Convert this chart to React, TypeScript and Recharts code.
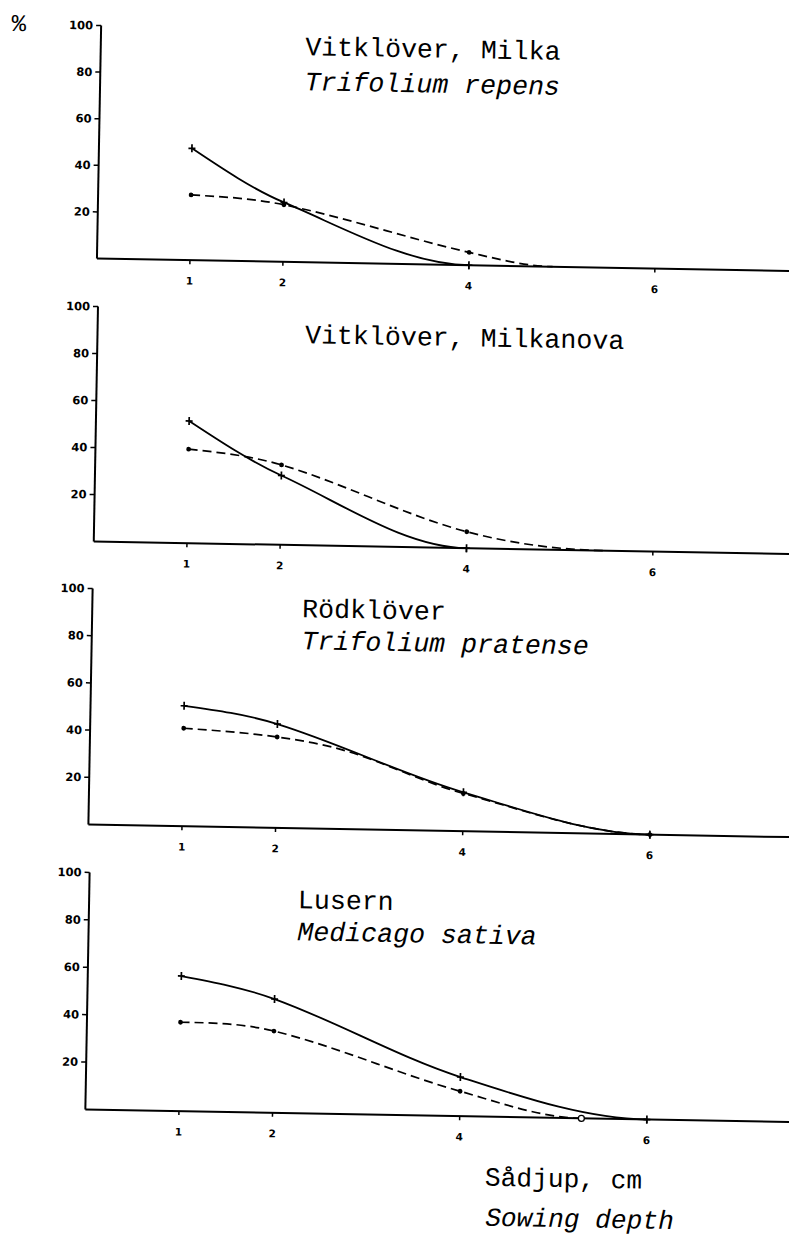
import React from 'react';
import { LineChart, Line, XAxis, YAxis } from 'recharts';

// ---- data ----
const depthTicks = [1, 2, 4, 6];
const percentTicks = [20, 40, 60, 80, 100];

const milkaSolidDepth = [1, 2, 4];
const milkaSolidPct = [48, 25.5, 0];
const milkaDashDepth = [1, 2, 4, 4.9];
const milkaDashPct = [28, 24.5, 5.5, 0];

const milkanovaSolidDepth = [1, 2, 4];
const milkanovaSolidPct = [52, 29.5, 0];
const milkanovaDashDepth = [1, 2, 4, 5.5];
const milkanovaDashPct = [40, 34, 7, 0];

const rodSolidDepth = [1, 2, 4, 6];
const rodSolidPct = [51, 44, 16.5, 0];
const rodDashDepth = [1, 2, 2.75, 4, 6];
const rodDashPct = [41.5, 38.5, 33, 16, 0];

const lusernSolidDepth = [1, 2, 4, 6];
const lusernSolidPct = [57, 48, 16.5, 0];
const lusernDashDepth = [1, 2, 4, 5.3];
const lusernDashPct = [37.5, 34.5, 10.5, 0];

const titles = ['Vitklöver, Milka', 'Vitklöver, Milkanova', 'Rödklöver', 'Lusern'];
const subtitles = ['Trifolium repens', '', 'Trifolium pratense', 'Medicago sativa'];
const xLabel = 'Sådjup, cm';
const xLabelEn = 'Sowing depth';
const yUnit = '%';

const zip = (xs: number[], ys: number[]) => xs.map((d, i) => ({ depth: d, pct: ys[i] }));

const series = [
  { solid: zip(milkaSolidDepth, milkaSolidPct), dash: zip(milkaDashDepth, milkaDashPct) },
  { solid: zip(milkanovaSolidDepth, milkanovaSolidPct), dash: zip(milkanovaDashDepth, milkanovaDashPct) },
  { solid: zip(rodSolidDepth, rodSolidPct), dash: zip(rodDashDepth, rodDashPct) },
  { solid: zip(lusernSolidDepth, lusernSolidPct), dash: zip(lusernDashDepth, lusernDashPct) },
];

// ---- layout (the scanned original is turned about 1 degree clockwise) ----
const W = 789;
const H = 1244;
const CW = 815; // chart width, runs past the right edge like the original axis
const TILT = 1.03;
const panels = [
  { y100: 30.5, y0: 263.5, x0: 90.5, unit: 93, tx: 295, ty: 57, sy: 92, openEnd: false },
  { y100: 311.5, y0: 546.5, x0: 92.4, unit: 93.2, tx: 300, ty: 345, sy: 0, openEnd: false },
  { y100: 593.5, y0: 829.6, x0: 92.1, unit: 93.6, tx: 302, ty: 619, sy: 651, openEnd: false },
  { y100: 877.6, y0: 1114.6, x0: 94.2, unit: 93.6, tx: 303, ty: 910, sy: 942, openEnd: true },
];

const MONO = '"Liberation Mono", "Courier New", monospace';
const TICKFONT = '"DejaVu Sans", "Liberation Sans", Arial, sans-serif';
const TOPM = 10;
const XAXH = 30;

// Smooth hand-drawn-like curve: cubic Hermite through the points,
// Catmull-Rom tangents inside, flat tangent where the curve meets the axis.
const smoothCurve = (context: any) => {
  let xs: number[] = [];
  let ys: number[] = [];
  return {
    areaStart() {},
    areaEnd() {},
    lineStart() {
      xs = [];
      ys = [];
    },
    point(x: number, y: number) {
      xs.push(+x);
      ys.push(+y);
    },
    lineEnd() {
      const n = xs.length;
      if (n === 0) return;
      context.moveTo(xs[0], ys[0]);
      if (n === 1) return;
      if (n === 2) {
        context.lineTo(xs[1], ys[1]);
        return;
      }
      const s: number[] = [];
      for (let i = 0; i < n - 1; i++) s.push((ys[i + 1] - ys[i]) / (xs[i + 1] - xs[i]));
      const m: number[] = new Array(n).fill(0);
      for (let i = 1; i < n - 1; i++) m[i] = (ys[i + 1] - ys[i - 1]) / (xs[i + 1] - xs[i - 1]);
      m[0] = (3 * s[0] - m[1]) / 2;
      m[n - 1] = 0;
      for (let i = 0; i < n - 1; i++) {
        const h = xs[i + 1] - xs[i];
        context.bezierCurveTo(
          xs[i] + h / 3,
          ys[i] + (m[i] * h) / 3,
          xs[i + 1] - h / 3,
          ys[i + 1] - (m[i + 1] * h) / 3,
          xs[i + 1],
          ys[i + 1]
        );
      }
    },
  };
};

const plusDot = (props: any) => {
  const { cx, cy, payload, index } = props;
  if (!depthTicks.includes(payload.depth)) return <g key={`p${index}`} />;
  return (
    <g key={`p${index}`}>
      <line x1={cx - 3.5} y1={cy} x2={cx + 3.5} y2={cy} stroke="#000" strokeWidth={1.7} />
      <line x1={cx} y1={cy - 4} x2={cx} y2={cy + 4} stroke="#000" strokeWidth={1.7} />
    </g>
  );
};

const makeDashDot = (openEnd: boolean) => (props: any) => {
  const { cx, cy, payload, index } = props;
  if (!depthTicks.includes(payload.depth)) {
    if (openEnd && payload.pct === 0) {
      return <circle key={`d${index}`} cx={cx} cy={cy} r={3} fill="#fff" stroke="#000" strokeWidth={1.3} />;
    }
    return <g key={`d${index}`} />;
  }
  return <circle key={`d${index}`} cx={cx} cy={cy} r={2.4} fill="#000" stroke="none" />;
};

function Panel({ idx }: { idx: number }) {
  const p = panels[idx];
  const s = series[idx];
  const plotH = p.y0 - p.y100;
  const xmax = (CW - p.x0) / p.unit;
  return (
    <div style={{ position: 'absolute', left: 0, top: p.y100 - TOPM }}>
      <LineChart
        width={CW}
        height={plotH + TOPM + XAXH}
        margin={{ top: TOPM, right: 0, bottom: 0, left: 0 }}
      >
        <XAxis
          dataKey="depth"
          type="number"
          domain={[0, xmax]}
          allowDataOverflow
          ticks={depthTicks}
          interval={0}
          tickSize={4}
          tickMargin={13}
          axisLine={{ stroke: '#000', strokeWidth: 2 }}
          tickLine={{ stroke: '#000', strokeWidth: 1.5 }}
          tick={{ fill: '#000', fontSize: 10.5, fontWeight: 'bold', fontFamily: TICKFONT }}
          height={XAXH}
        />
        <YAxis
          type="number"
          domain={[0, 100]}
          ticks={percentTicks}
          interval={0}
          width={p.x0}
          tickSize={5}
          tickMargin={3}
          axisLine={{ stroke: '#000', strokeWidth: 2 }}
          tickLine={{ stroke: '#000', strokeWidth: 1.5 }}
          tick={{ fill: '#000', fontSize: 11.5, fontWeight: 'bold', fontFamily: TICKFONT }}
        />
        <Line
          data={s.dash}
          dataKey="pct"
          type={smoothCurve as any}
          stroke="#000"
          strokeWidth={1.7}
          strokeDasharray="9 5"
          dot={makeDashDot(p.openEnd)}
          activeDot={false}
          isAnimationActive={false}
        />
        <Line
          data={s.solid}
          dataKey="pct"
          type={smoothCurve as any}
          stroke="#000"
          strokeWidth={1.8}
          dot={plusDot}
          activeDot={false}
          isAnimationActive={false}
        />
      </LineChart>
    </div>
  );
}

export default function App() {
  return (
    <div style={{ position: 'absolute', left: 0, top: 0, width: W, height: H, background: '#fff', overflow: 'hidden' }}>
      <div
        style={{
          position: 'absolute',
          left: 0,
          top: 0,
          width: CW,
          height: H,
          transform: `rotate(${TILT}deg)`,
          transformOrigin: '400px 620px',
        }}
      >
        {panels.map((_, i) => (
          <Panel key={i} idx={i} />
        ))}
        <svg width={CW} height={H} style={{ position: 'absolute', left: 0, top: 0, pointerEvents: 'none', overflow: 'visible' }}>
          <text x={1} y={38} fontFamily={MONO} fontSize={24} fill="#000">{yUnit}</text>
          {panels.map((p, i) => (
            <g key={i}>
              <text x={p.tx} y={p.ty} fontFamily={MONO} fontSize={26.6} fill="#000">{titles[i]}</text>
              {subtitles[i] ? (
                <text x={p.tx} y={p.sy} fontFamily={MONO} fontStyle="italic" fontSize={26.6} fill="#000">{subtitles[i]}</text>
              ) : null}
            </g>
          ))}
          <text x={495} y={1184} fontFamily={MONO} fontSize={26.2} fill="#000">{xLabel}</text>
          <text x={496} y={1224} fontFamily={MONO} fontStyle="italic" fontSize={26.2} fill="#000">{xLabelEn}</text>
        </svg>
      </div>
    </div>
  );
}
